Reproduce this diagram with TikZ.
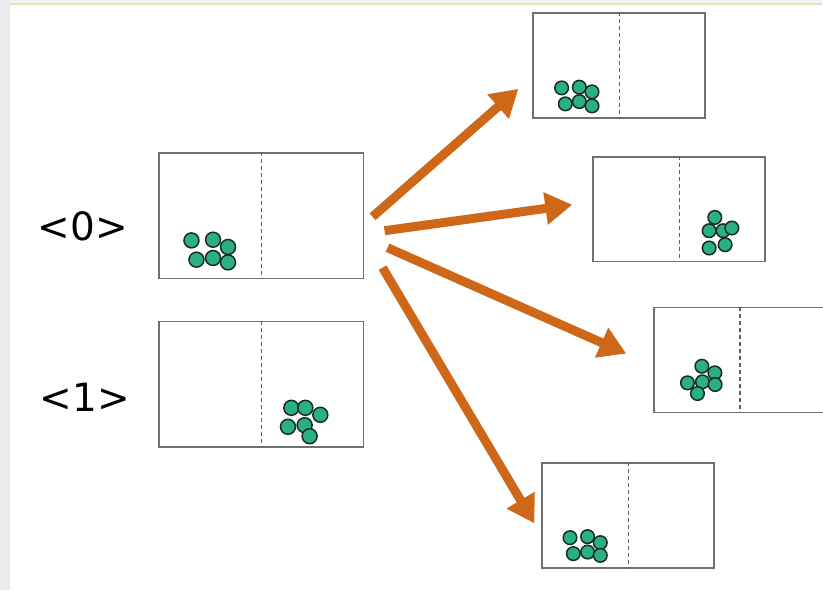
\documentclass[tikz,border=0pt]{standalone}
\usepackage{fontspec}
\setmainfont{DejaVu Sans}
\usetikzlibrary{arrows.meta}

\definecolor{arrowor}{RGB}{206,104,24}
\definecolor{beadfill}{RGB}{42,176,132}
\definecolor{beadedge}{RGB}{24,44,38}
\definecolor{framegray}{RGB}{112,112,112}
\definecolor{stripgray}{RGB}{234,234,239}
\definecolor{topline}{RGB}{218,234,186}

\begin{document}
\begin{tikzpicture}[x=1pt,y=-1pt,
  bigbox/.style={draw=framegray,line width=1.8pt,minimum width=205pt,minimum height=126pt,inner sep=0pt,anchor=north west},
  smallbox/.style={draw=framegray,line width=1.8pt,minimum width=172pt,minimum height=105pt,inner sep=0pt,anchor=north west},
  divider/.style={draw=framegray!85!black,line width=1.1pt,dash pattern=on 4pt off 3pt},
  bead/.style={fill=beadfill,draw=beadedge,line width=1.5pt},
  flow/.style={draw=arrowor,line width=9pt,line cap=butt,-{Triangle[length=27pt,width=31pt]}},
  state/.style={font=\fontsize{39}{41}\selectfont,inner sep=0pt,anchor=base}
]
% page, side strip and top rule
\fill[white] (0,0) rectangle (823,591);
\fill[stripgray] (0,0) rectangle (10,591);
\fill[stripgray!60] (10,0) rectangle (823,3);
\draw[topline,line width=2pt] (10,4) -- (823,4);
\useasboundingbox (0,0) rectangle (823,591);

% state labels
\node[state] (l0) at (83,241) {<0>};
\node[state] (l1) at (85,412) {<1>};

% initial states
\node[bigbox] (A) at (158,152) {};
\node[bigbox] (B) at (158,321) {};
\draw[divider] (A.north) -- (A.south);
\draw[divider] (B.north) -- (B.south);

% outcome states
\node[smallbox] (R1) at (533,12) {};
\node[smallbox] (R2) at (593,156) {};
\node[smallbox] (R3) at (654,307) {};
\node[smallbox] (R4) at (542,463) {};
\foreach \b in {R1,R2,R3,R4} \draw[divider] (\b.north) -- (\b.south);

% particles
\foreach \p in {(191.7,240.7),(213.3,240),(228.3,247.3),(196.7,260),(213.3,258.3),(228.3,262.7)}
  \draw[bead] \p circle (7.5);
\foreach \p in {(291.7,408.3),(305.7,408.3),(320.7,415.3),(288.3,427.3),(305,425.7),(310,436.7)}
  \draw[bead] \p circle (7.5);
\foreach \p in {(562.3,88),(580,87.3),(592.7,92),(566,104),(580,101.7),(592.7,106)}
  \draw[bead] \p circle (6.8);
\foreach \p in {(715.7,217.7),(710,231),(724,231),(732.7,228.3),(710,248.3),(726,245)}
  \draw[bead] \p circle (6.8);
\foreach \p in {(702.7,366.7),(715.7,373.3),(688.3,383.3),(703.3,382.3),(716,385),(698.3,394)}
  \draw[bead] \p circle (6.8);
\foreach \p in {(570.7,538.3),(588.3,537.3),(601,543.3),(574,554.3),(588.3,552.7),(601,556)}
  \draw[bead] \p circle (6.8);

% transitions
\coordinate (s1) at (373,217);
\coordinate (s2) at (385,231);
\coordinate (s3) at (388,248);
\coordinate (s4) at (383,268);
\coordinate (t1) at (519,89);
\coordinate (t2) at (573,205);
\coordinate (t3) at (627,354);
\coordinate (t4) at (535,524);
\draw[flow] (s1) -- (t1);
\draw[flow] (s2) -- (t2);
\draw[flow] (s3) -- (t3);
\draw[flow] (s4) -- (t4);
\end{tikzpicture}
\end{document}
